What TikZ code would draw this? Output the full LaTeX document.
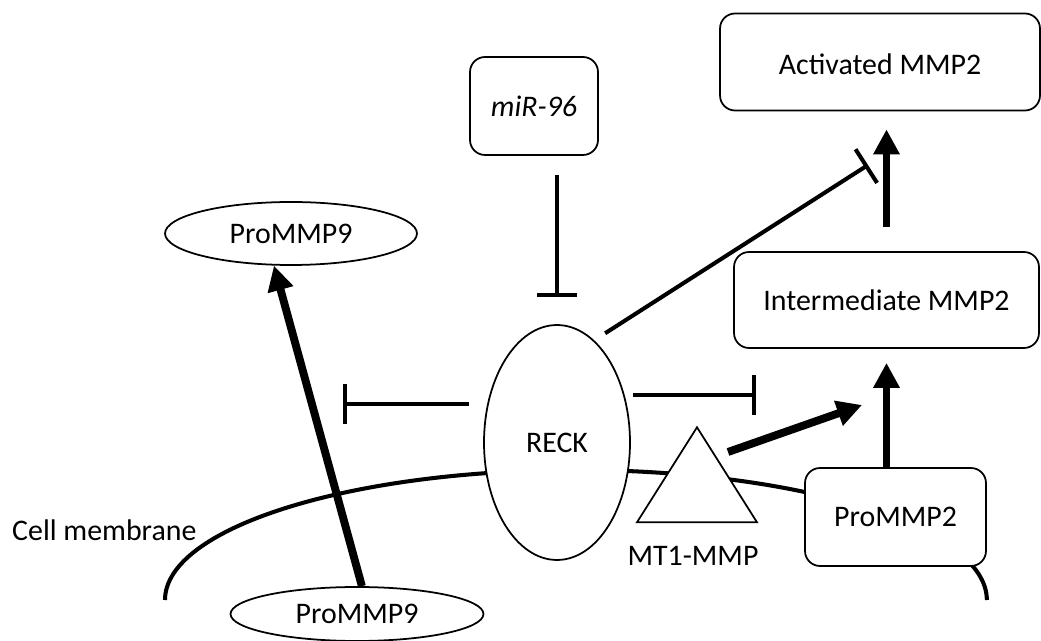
\documentclass[tikz,border=0pt]{standalone}
\usepackage{fontspec}
\setmainfont{Carlito}
\usepackage{tikz}
\usetikzlibrary{arrows.meta, positioning, shapes.geometric, calc}

\begin{document}
\begin{tikzpicture}[
    x=0.02cm, y=-0.02cm,
    every node/.style={font=\fontsize{17}{20}\selectfont},
    box/.style={draw, rounded corners=0.3cm, line width=1pt, fill=white, inner sep=0pt},
    blob/.style={draw, ellipse, line width=1pt, fill=white, inner sep=0pt},
    inhib/.style={-{Bar[width=0.8cm]}, line width=2.3pt},
    push/.style={-{Triangle[length=0.5cm, width=0.5cm]}, line width=4.5pt},
    membrane/.style={line width=2.3pt}
]
\useasboundingbox (0,0) rectangle (1041,641);

% Cell membrane
\draw[membrane] (165,600) arc[start angle=180, end angle=0, x radius=8.22cm, y radius=2.6cm];
\node[anchor=west] (cellmem) at (6,530) {Cell membrane};

% Boxes and proteins
\node[box, minimum width=2.56cm, minimum height=1.96cm] (mir) at (534,106) {\itshape miR-96};
\node[box, minimum width=6.4cm, minimum height=1.94cm, text height=0.62cm, text depth=0.1cm] (act) at (880,62) {Activated MMP2};
\node[box, minimum width=6.1cm, minimum height=1.92cm] (inter) at (886.5,300) {Intermediate MMP2};
\node[box, minimum width=3.62cm, minimum height=1.96cm] (prommp2) at (895.5,517) {ProMMP2};
\node[blob, minimum width=5.04cm, minimum height=1.26cm] (pro9top) at (291,233.5) {ProMMP9};
\node[blob, minimum width=5.06cm, minimum height=1.08cm] (pro9bot) at (357,614) {ProMMP9};
\node[blob, minimum width=2.92cm, minimum height=4.7cm] (reck) at (557,442.5) {RECK};

% MT1-MMP
\node[draw, fill=white, line width=1pt, isosceles triangle, shape border rotate=90,
      isosceles triangle stretches, inner sep=0pt, anchor=apex,
      minimum width=2.4cm, minimum height=1.9cm] (mt1) at (697,425) {};
\node (mt1lbl) at (693,556) {MT1-MMP};

% Free ends
\coordinate (blkL) at (343,404);
\coordinate (blkR) at (756,395);
\coordinate (blkA) at (868,165);
\coordinate (mtend) at (862,405);

% Inhibitions
\draw[inhib, shorten <=0.38cm, shorten >=0.54cm] (reck.north |- mir.south) -- (reck.north);
\draw[inhib, shorten <=0.28cm] (reck.west |- blkL) -- (blkL);
\draw[inhib, shorten <=0.04cm] (reck.east |- blkR) -- (blkR);
\draw[inhib, shorten <=0.26cm] (reck.70) -- (blkA);

% Activations
\draw[push] (pro9bot.80) -- (pro9top.242);
\draw[push] ([shift={(31,27)}]mt1.apex) -- (mtend);
\draw[push, shorten >=0.28cm] (inter.south |- prommp2.north) -- (inter.south);
\draw[push, shorten <=0.48cm, shorten >=0.36cm] (inter.north) -- (inter.north |- act.south);

\end{tikzpicture}
\end{document}
